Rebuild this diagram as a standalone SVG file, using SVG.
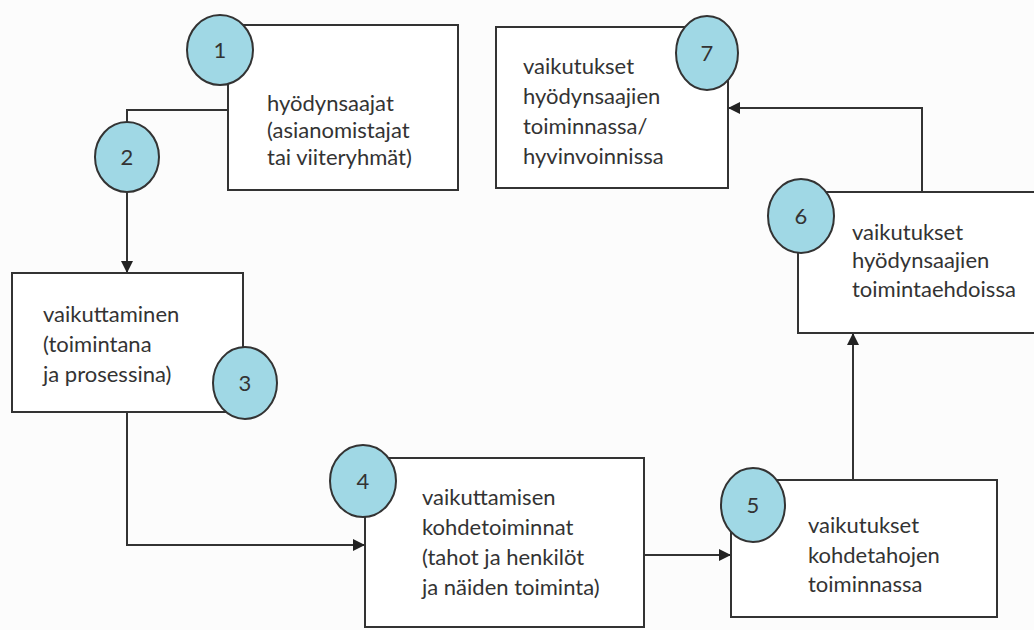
<svg xmlns="http://www.w3.org/2000/svg" width="1034" height="630" viewBox="0 0 1034 630">
<defs>
<style>
.box{fill:#fff;stroke:#333;stroke-width:2}
.circ{fill:#a0d8e5;stroke:#333;stroke-width:2}
.num{font-family:Lato,"Open Sans",sans-serif;font-size:22px;fill:#333;text-anchor:middle}
.lbl{font-family:Lato,"Open Sans",sans-serif;font-size:22px;fill:#333}
.con{fill:none;stroke:#333;stroke-width:2}
</style>
<marker id="arr" viewBox="0 0 12 12" refX="12" refY="6" markerWidth="12" markerHeight="12" markerUnits="userSpaceOnUse" orient="auto">
<path d="M0,0 L12,6 L0,12 Z" fill="#222"/>
</marker>
</defs>
<rect width="1034" height="630" fill="#fcfcfc"/>
<g id="connectors">
<path class="con" d="M228,110 H127 V124"/>
<path class="con" d="M127,192 V273" marker-end="url(#arr)"/>
<path class="con" d="M127,412 V545 H365" marker-end="url(#arr)"/>
<path class="con" d="M645,555 H731" marker-end="url(#arr)"/>
<path class="con" d="M853,480 V333" marker-end="url(#arr)"/>
<path class="con" d="M922,192 V108 H728" marker-end="url(#arr)"/>
</g>
<g id="n1">
<rect class="box" x="228" y="25" width="230" height="165"/>
<text class="lbl" x="267" y="111">hyödynsaajat</text>
<text class="lbl" x="267" y="138">(asianomistajat</text>
<text class="lbl" x="267" y="165">tai viiteryhmät)</text>
<ellipse class="circ" cx="220" cy="50" rx="33" ry="35"/>
<text class="num" x="220" y="58">1</text>
</g>
<g id="n2">
<ellipse class="circ" cx="127" cy="157" rx="32" ry="35"/>
<text class="num" x="127" y="165">2</text>
</g>
<g id="n3">
<rect class="box" x="12" y="273" width="231" height="139"/>
<text class="lbl" x="43" y="322">vaikuttaminen</text>
<text class="lbl" x="43" y="352">(toimintana</text>
<text class="lbl" x="43" y="382">ja prosessina)</text>
<ellipse class="circ" cx="245" cy="383" rx="32" ry="36"/>
<text class="num" x="245" y="391">3</text>
</g>
<g id="n4">
<rect class="box" x="365" y="458" width="279" height="169"/>
<text class="lbl" x="422" y="505">vaikuttamisen</text>
<text class="lbl" x="422" y="535">kohdetoiminnat</text>
<text class="lbl" x="422" y="565">(tahot ja henkilöt</text>
<text class="lbl" x="422" y="595">ja näiden toiminta)</text>
<ellipse class="circ" cx="363" cy="481" rx="33" ry="36"/>
<text class="num" x="363" y="489">4</text>
</g>
<g id="n5">
<rect class="box" x="731" y="480" width="266" height="137"/>
<text class="lbl" x="808" y="533">vaikutukset</text>
<text class="lbl" x="808" y="563">kohdetahojen</text>
<text class="lbl" x="808" y="592">toiminnassa</text>
<ellipse class="circ" cx="753" cy="505" rx="32" ry="37"/>
<text class="num" x="753" y="513">5</text>
</g>
<g id="n6">
<rect class="box" x="798" y="192" width="250" height="141"/>
<text class="lbl" x="852" y="240">vaikutukset</text>
<text class="lbl" x="852" y="268">hyödynsaajien</text>
<text class="lbl" x="852" y="297">toimintaehdoissa</text>
<ellipse class="circ" cx="801" cy="216" rx="33" ry="37"/>
<text class="num" x="801" y="224">6</text>
</g>
<g id="n7">
<rect class="box" x="496" y="27" width="232" height="161"/>
<text class="lbl" x="523" y="74">vaikutukset</text>
<text class="lbl" x="523" y="104">hyödynsaajien</text>
<text class="lbl" x="523" y="134">toiminnassa/</text>
<text class="lbl" x="523" y="164">hyvinvoinnissa</text>
<ellipse class="circ" cx="707" cy="53" rx="31" ry="37"/>
<text class="num" x="707" y="61">7</text>
</g>
</svg>
